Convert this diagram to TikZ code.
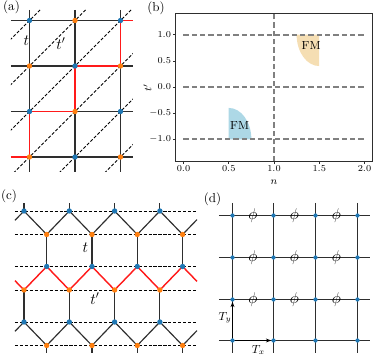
\documentclass[tikz,border=0pt]{standalone}
\usepackage{amsmath}
\usetikzlibrary{arrows.meta,calc}
\definecolor{siteblue}{HTML}{1F77B4}
\definecolor{siteorange}{HTML}{FF7F0E}
\definecolor{bondred}{HTML}{FF1A1A}
\definecolor{bonddark}{HTML}{2E2E2E}
\definecolor{guidegray}{HTML}{808080}
\definecolor{fmorange}{HTML}{F5DEB3}
\definecolor{fmblue}{HTML}{ADD8E6}
\pgfdeclarelayer{back}
\pgfsetlayers{back,main}
\tikzset{
  >=Stealth,
  site/.style={circle, inner sep=0pt, minimum size=1.45mm},
  bsite/.style={site, fill=siteblue},
  osite/.style={site, fill=siteorange},
  smallsite/.style={circle, inner sep=0pt, minimum size=1.15mm, fill=siteblue},
  bond/.style={draw=bonddark, line width=0.9pt},
  redbond/.style={draw=bondred, line width=1.1pt},
  hop/.style={draw=black, line width=0.6pt, dash pattern=on 2.4pt off 1.4pt},
  guide/.style={draw=guidegray, line width=1.4pt, dash pattern=on 4pt off 2.4pt},
  panel/.style={font=\normalsize, inner sep=0pt},
  hoplabel/.style={font=\large, inner sep=0pt},
  fluxlabel/.style={font=\fontsize{13}{15}\selectfont, inner sep=0pt},
  ticklabel/.style={font=\fontsize{7.5}{9}\selectfont, inner sep=1pt},
  axislabel/.style={font=\footnotesize, inner sep=0pt},
  fmlabel/.style={font=\small, inner sep=0pt},
  shiftarrow/.style={-{Stealth[length=4pt,width=3pt]}, line width=0.7pt, draw=black}
}

\begin{document}
\begin{tikzpicture}[x=0.27mm, y=-0.27mm]
\useasboundingbox (0,0) rectangle (374,355);

% (a) square lattice
\node[panel] (lab-a) at (11.5,7.5) {(a)};
\foreach \i/\x in {1/29.5,2/75,3/120.5}
  \foreach \j/\y in {1/20.5,2/66,3/111.5,4/157}{
    \pgfmathtruncatemacro\s{\i+\j}
    \ifodd\s \def\sitecol{siteorange}\else\def\sitecol{siteblue}\fi
    \node[site, fill=\sitecol] (a-\i-\j) at (\x,\y) {};
  }
\begin{pgfonlayer}{back}
\foreach \j in {1,...,4}
  \draw[bond] ($(a-1-\j)+(-18.5,0)$) -- ($(a-3-\j)+(12.5,0)$);
\foreach \i in {1,2,3}
  \draw[bond] ($(a-\i-1)+(0,-10.5)$) -- ($(a-\i-4)+(0,15)$);
\begin{scope}
  \clip (11,10) rectangle (133,172);
  \foreach \c in {50,95.5,141,186.5,232,277.5}
    \draw[hop] (\c-180,180) -- (\c,0);
\end{scope}
\draw[redbond] ($(a-1-4)+(-18.5,0)$) -- (a-1-4.center) -- (a-1-3.center)
  -- (a-2-3.center) -- (a-2-2.center) -- (a-3-2.center) -- (a-3-1.center)
  -- ($(a-3-1)+(12.5,0)$);
\end{pgfonlayer}
\node[hoplabel] (t-a) at (26.5,40.5) {$t$};
\node[hoplabel] (tp-a) at (61,43.5) {$t'$};

% (b) phase diagram
\node[panel] (lab-b) at (156,8) {(b)};
\begin{scope}[shift={(183.5,87)}, x=24.435mm, y=14.12mm]
  \fill[fmorange] (1.5,1) -- (1.25,1) arc[start angle=180, end angle=270, x radius=0.25, y radius=0.6] -- cycle;
  \fill[fmblue] (0.5,-1) -- (0.5,-0.4) arc[start angle=90, end angle=0, x radius=0.25, y radius=0.6] -- cycle;
  \foreach \v in {1,0,-1}
    \draw[guide] (0,\v) -- (2,\v);
  \draw[guide] (1,-1.415) -- (1,1.415);
  \draw[bonddark, line width=0.6pt] (-0.088,-1.415) rectangle (2.087,1.415);
  \foreach \v/\l [count=\k] in {0/0.0,0.5/0.5,1/1.0,1.5/1.5,2/2.0}{
    \draw[bonddark, line width=0.5pt] (\v,-1.415) -- (\v,-1.472);
    \node[ticklabel, anchor=north] (xt-\k) at (\v,-1.472) {$\l$};
  }
  \foreach \v/\l [count=\k] in {1/1.0,0.5/0.5,0/0.0,-0.5/-0.5,-1/-1.0}{
    \draw[bonddark, line width=0.5pt] (-0.088,\v) -- (-0.121,\v);
    \node[ticklabel, anchor=east] (yt-\k) at (-0.121,\v) {$\l$};
  }
  \node[axislabel] (n-b) at (1,-1.817) {$n$};
  \node[axislabel, rotate=90] (tp-b) at (-0.398,-0.02) {$t'$};
  \node[fmlabel] (fm-top) at (1.41,0.80) {FM};
  \node[fmlabel] (fm-bot) at (0.62,-0.73) {FM};
\end{scope}

% (c) brick-wall lattice
\node[panel] (lab-c) at (9,196.5) {(c)};
\foreach \k in {1,...,4}{
  \pgfmathsetmacro\xb{24+45.3*(\k-1)}
  \pgfmathsetmacro\xo{\xb+22.7}
  \node[bsite] (c-A\k) at (\xb,211) {};
  \node[osite] (c-B\k) at (\xo,234.5) {};
  \node[bsite] (c-C\k) at (\xo,266.5) {};
  \node[osite] (c-D\k) at (\xb,290) {};
  \node[bsite] (c-E\k) at (\xb,322) {};
  \node[osite] (c-F\k) at (\xo,345.5) {};
}
\begin{pgfonlayer}{back}
\foreach \y in {211,234.5,266.5,290,322,345.5}
  \draw[hop] (15,\y) -- (197,\y);
\foreach \k in {1,...,4}{
  \draw[bond] (c-A\k.center) -- ++(0,-8);
  \draw[bond] (c-A\k.center) -- (c-B\k.center);
  \draw[bond] (c-B\k.center) -- (c-C\k.center);
  \draw[redbond] (c-D\k.center) -- (c-C\k.center);
  \draw[bond] (c-D\k.center) -- (c-E\k.center);
  \draw[bond] (c-E\k.center) -- (c-F\k.center);
  \draw[bond] (c-F\k.center) -- ++(0,7.5);
}
\foreach \k [evaluate=\k as \n using int(\k+1)] in {1,2,3}{
  \draw[bond] (c-B\k.center) -- (c-A\n.center);
  \draw[redbond] (c-C\k.center) -- (c-D\n.center);
  \draw[bond] (c-F\k.center) -- (c-E\n.center);
}
\draw[bond] (c-A1.center) -- ++(-9,9.3);
\draw[bond] (c-B4.center) -- ++(14.4,-14.9);
\draw[redbond] (c-D1.center) -- ++(-9,-9.3);
\draw[redbond] (c-C4.center) -- ++(14.4,14.9);
\draw[bond] (c-E1.center) -- ++(-9,9.3);
\draw[bond] (c-F4.center) -- ++(14.4,-14.9);
\end{pgfonlayer}
\node[hoplabel] (t-c) at (85.5,248) {$t$};
\node[hoplabel] (tp-c) at (95,298.5) {$t'$};

% (d) flux lattice
\node[panel] (lab-d) at (212.5,199.5) {(d)};
\foreach \i/\x in {1/232.5,2/273.5,3/315.5,4/357.5}
  \foreach \j/\y in {1/215.5,2/257.5,3/299.5,4/340.5}
    \node[smallsite] (d-\i-\j) at (\x,\y) {};
\begin{pgfonlayer}{back}
\foreach \j in {1,...,4}
  \draw[bond] ($(d-1-\j)+(-13.5,0)$) -- ($(d-4-\j)+(12.5,0)$);
\foreach \i in {1,...,4}
  \draw[bond] ($(d-\i-1)+(0,-12.5)$) -- ($(d-\i-4)+(0,12.5)$);
\end{pgfonlayer}
\foreach \i [evaluate=\i as \ii using int(\i+1)] in {1,2,3}
  \foreach \j [evaluate=\j as \jj using int(\j+1)] in {1,2,3}
    \node[fluxlabel] (phi-\i-\j) at ($(d-\i-\j)!0.5!(d-\ii-\jj)$) {$\phi$};
\draw[shiftarrow] (d-1-4) -- (d-1-3);
\draw[shiftarrow] (d-1-4) -- (d-2-4);
\node[fmlabel] (Ty) at (225,317.5) {$T_y$};
\node[fmlabel] (Tx) at (258.5,350) {$T_x$};
\end{tikzpicture}
\end{document}
